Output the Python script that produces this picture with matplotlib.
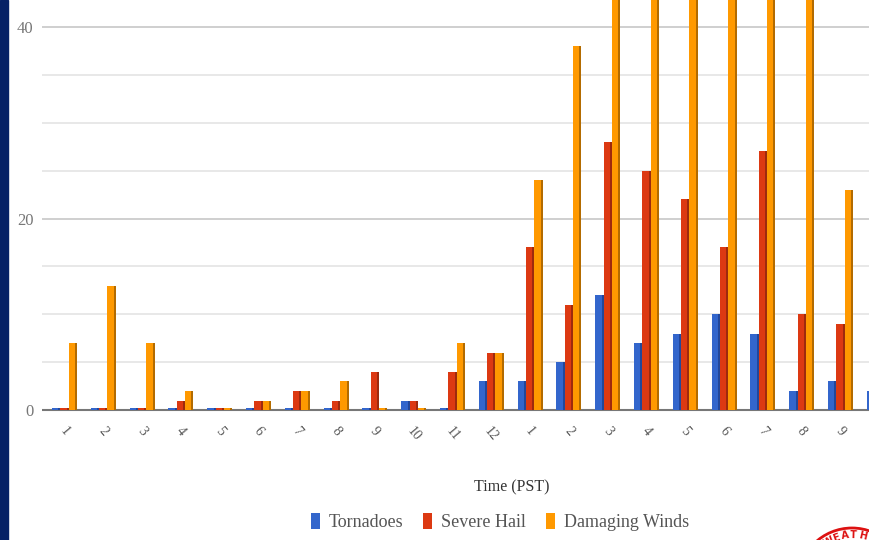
import numpy as np
import matplotlib
matplotlib.use('Agg')
import matplotlib.pyplot as plt
from matplotlib.patches import Rectangle, Circle

hours = ['1', '2', '3', '4', '5', '6', '7', '8', '9', '10', '11', '12',
         '1', '2', '3', '4', '5', '6', '7', '8', '9', '10']
tornadoes = [0, 0, 0, 0, 0, 0, 0, 0, 0, 1, 0, 3,
             3, 5, 12, 7, 8, 10, 8, 2, 3, 2]
severe_hail = [0, 0, 0, 1, 0, 1, 2, 1, 4, 1, 4, 6,
               17, 11, 28, 25, 22, 17, 27, 10, 9, 0]
damaging_winds = [7, 13, 7, 2, 0, 1, 2, 3, 0, 0, 7, 6,
                  24, 38, 52, 48, 56, 60, 50, 45, 23, 0]

series = [('Tornadoes', tornadoes, '#3366cc', '#22479a'),
          ('Severe Hail', severe_hail, '#dc3912', '#9e2a0d'),
          ('Damaging Winds', damaging_winds, '#ff9900', '#b36b00')]

plt.rcParams['font.family'] = ['Liberation Serif', 'DejaVu Serif']

fig = plt.figure(figsize=(8.7, 5.4), dpi=100)
fig.patch.set_facecolor('white')

ax = fig.add_axes([42 / 870, 0.235, 896 / 870, 0.765])
x = np.arange(len(hours))
w = 0.215
for i, (name, vals, col, dark) in enumerate(series):
    v = np.maximum(np.array(vals, dtype=float), 0.25)
    pos = x + (i - 1) * w
    # darker right side to imitate the shaded bars
    ax.bar(pos, v, width=w, color=dark, zorder=3)
    ax.bar(pos - w * 0.12, v, width=w * 0.76, color=col, zorder=4, label=name)

ax.set_xlim(-0.58, -0.58 + 896 / 38.8)
ax.set_ylim(-0.3, 42.8)
ax.set_yticks([0, 20, 40])
ax.set_yticks([5, 10, 15, 25, 30, 35], minor=True)
ax.grid(axis='y', which='major', color='#cfcfcf', linewidth=1.4, zorder=0)
ax.grid(axis='y', which='minor', color='#e4e4e4', linewidth=1.2, zorder=0)
ax.axhline(0, color='#777777', linewidth=1.5, zorder=2)
ax.tick_params(axis='y', which='both', length=0, labelsize=12,
               labelcolor='#777777', pad=6)
# last group is cut by the right edge, its label is not shown
ax.set_xticks(x[:21])
ax.set_xticklabels(hours[:21], rotation=-50, ha='center', va='top',
                   fontsize=10, color='#555555')
ax.tick_params(axis='x', length=0, pad=8)
for s in ax.spines.values():
    s.set_visible(False)

fig.text(512 / 870, 1 - 487 / 540, 'Time (PST)', ha='center', va='center',
         fontsize=11.5, color='#333333')

handles, labels = ax.get_legend_handles_labels()
fig.legend(handles, labels, loc='center', bbox_to_anchor=(500 / 870, 1 - 522 / 540),
           ncol=3, frameon=False, fontsize=13, handlelength=0.5, handleheight=1.0,
           handletextpad=0.5, columnspacing=1.1, labelcolor='#555555')

# overlay in pixel units for the slide decorations
deco = fig.add_axes([0, 0, 1, 1], zorder=10)
deco.set_xlim(0, 870)
deco.set_ylim(540, 0)
deco.axis('off')
deco.add_patch(Rectangle((0, 0), 8, 540, color='#062166'))
# corner of the logo, bottom right
cx, cy, r = 852, 582, 54
deco.add_patch(Circle((cx, cy), r, facecolor='white', edgecolor='#dd1111', linewidth=2))
for ch, ang in zip('WEATH', [120, 109.5, 98.5, 88, 77]):
    a = np.deg2rad(ang)
    deco.text(cx + (r - 7) * np.cos(a), cy - (r - 7) * np.sin(a), ch,
              rotation=ang - 90, ha='center', va='center', fontsize=7,
              color='#dd1111', fontweight='bold', family='DejaVu Sans')

fig.savefig('out.png', dpi=100)
